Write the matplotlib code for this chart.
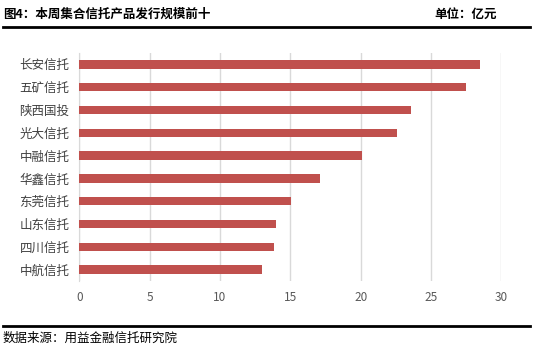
import matplotlib.pyplot as plt

plt.rcParams['font.family'] = ['Noto Sans CJK SC', 'DejaVu Sans']

# data (top to bottom as shown)
companies = ['长安信托', '五矿信托', '陕西国投', '光大信托', '中融信托',
             '华鑫信托', '东莞信托', '山东信托', '四川信托', '中航信托']
scale = [28.48, 27.48, 23.57, 22.58, 20.09, 17.11, 15.02, 13.96, 13.82, 12.97]
xticks = [0, 5, 10, 15, 20, 25, 30]

fig = plt.figure(figsize=(5.33, 3.52), dpi=100)
ax = fig.add_axes([79.3 / 533, 1 - 281 / 352, (501.3 - 79.3) / 533, 228 / 352])

ypos = list(range(len(companies)))[::-1]
ax.barh(ypos, scale, height=0.36, color='#C0504D', zorder=3)
ax.set_yticks(ypos)
ax.set_yticklabels(companies, fontsize=9, color='#404040')
ax.set_xticks(xticks)
ax.set_xticklabels([str(v) for v in xticks], fontsize=8.5, color='#595959')
ax.set_xlim(0, 30)
ax.set_ylim(-0.5, 9.5)
ax.grid(axis='x', color='#d9d9d9', linewidth=1, zorder=0)
for s in ['top', 'right', 'bottom']:
    ax.spines[s].set_visible(False)
ax.spines['left'].set_color('#d9d9d9')
ax.tick_params(axis='both', length=0)
ax.tick_params(axis='y', pad=7)
ax.tick_params(axis='x', pad=7)

# header / footer
fig.text(3 / 533, 1 - 14 / 352, '图4：本周集合信托产品发行规模前十', fontsize=9,
         fontweight='bold', va='center', ha='left')
fig.text(497 / 533, 1 - 14 / 352, '单位：亿元', fontsize=9,
         fontweight='bold', va='center', ha='right')
fig.add_artist(plt.Line2D([3 / 533, 530 / 533], [1 - 27 / 352, 1 - 27 / 352],
                          color='black', linewidth=2))
fig.add_artist(plt.Line2D([3 / 533, 530 / 533], [1 - 326 / 352, 1 - 326 / 352],
                          color='black', linewidth=2))
fig.text(3 / 533, 1 - 338 / 352, '数据来源：用益金融信托研究院', fontsize=9,
         va='center', ha='left')

fig.savefig('out.png', dpi=100)
